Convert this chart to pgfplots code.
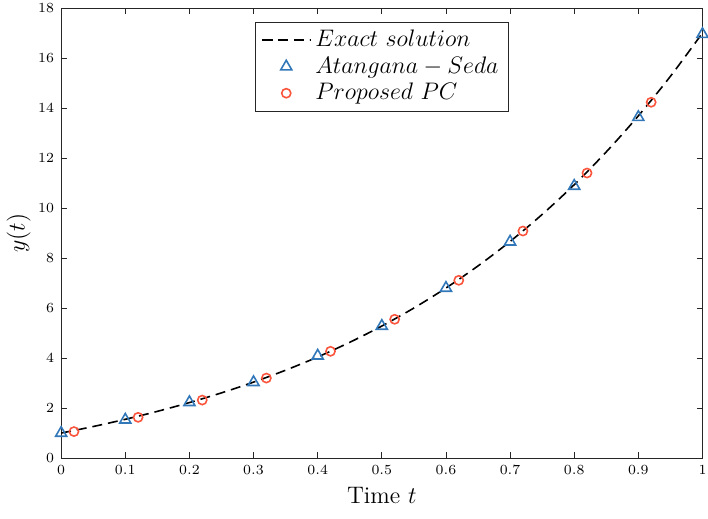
\documentclass[border=0pt]{standalone}
\usepackage{pgfplots}
\pgfplotsset{compat=1.18}
\definecolor{asblue}{RGB}{50,120,185}
\definecolor{pcred}{RGB}{250,85,60}
\definecolor{axgray}{RGB}{38,38,38}
\begin{document}
\begin{tikzpicture}
\begin{axis}[
  name=ax,
  scale only axis,
  width=322pt, height=226pt,
  xmin=0, xmax=1, ymin=0, ymax=18,
  xtick={0,0.1,...,1.01},
  ytick={0,2,...,18},
  xticklabel style={/pgf/number format/fixed, inner xsep=0pt},
  tick align=inside,
  major tick length=3pt,
  axis line style={axgray},
  every tick/.style={axgray},
  ticklabel style={font=\scriptsize},
  xlabel={Time $t$},
  ylabel={$y(t)$},
  label style={font=\large},
  xlabel style={yshift=0pt},
  ylabel style={yshift=-3pt},
  legend style={at={(0.5,0.969)}, anchor=north, font=\fontsize{11.5}{13.5}\selectfont,
    draw=axgray, row sep=-0.5pt, inner xsep=3pt},
  legend cell align=left,
  legend image code/.code={\draw[mark repeat=2,mark phase=2,#1] plot coordinates {(0cm,0cm) (0.43cm,0cm) (0.86cm,0cm)};},
]
\addplot[black, line width=0.8pt, dash pattern=on 5pt off 3pt, smooth] coordinates {
(0,1.000) (0.05,1.262) (0.1,1.551) (0.15,1.869) (0.2,2.220) (0.25,2.608)
(0.3,3.038) (0.35,3.515) (0.4,4.043) (0.45,4.630) (0.5,5.280) (0.55,6.001)
(0.6,6.800) (0.65,7.685) (0.7,8.662) (0.75,9.743) (0.8,10.933) (0.85,12.245)
(0.9,13.686) (0.95,15.267) (1,17.000)};
\addlegendentry{$Exact\ solution$}
\addplot[only marks, mark=triangle, mark size=3.2pt, asblue, mark options={line width=0.8pt}] coordinates {
(0,1.00) (0.1,1.53) (0.2,2.23) (0.3,3.03) (0.4,4.09) (0.5,5.28)
(0.6,6.80) (0.7,8.65) (0.8,10.88) (0.9,13.63) (1,16.95)};
\addlegendentry{$Atangana-Seda$}
\addplot[only marks, mark=o, mark size=2.3pt, pcred, mark options={line width=0.8pt}] coordinates {
(0.02,1.06) (0.12,1.63) (0.22,2.32) (0.32,3.20) (0.42,4.27) (0.52,5.55)
(0.62,7.11) (0.72,9.08) (0.82,11.40) (0.92,14.23)};
\addlegendentry{$Proposed\ PC$}
\end{axis}
\pgfresetboundingbox
\path ([yshift=-4pt]current axis.outer south west) rectangle ([yshift=4pt]current axis.north -| current axis.outer east);
\end{tikzpicture}
\end{document}
